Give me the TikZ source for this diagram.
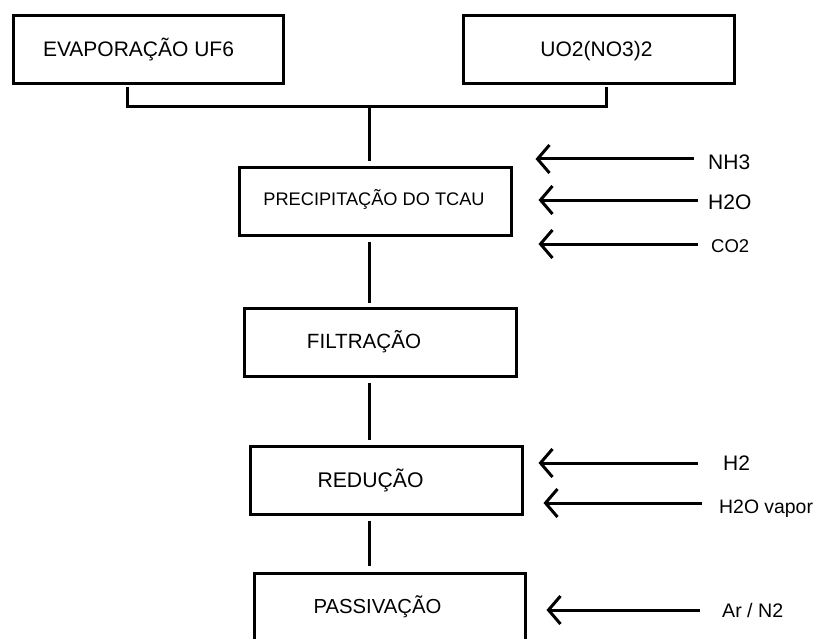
\documentclass[tikz,border=0pt]{standalone}
\usepackage{fontspec}
\setmainfont{Liberation Sans}
\usetikzlibrary{arrows.meta}
\newcommand{\fs}[1]{\fontsize{#1}{#1}\selectfont}
\begin{document}
\begin{tikzpicture}[x=1pt,y=-1pt,
  stepbox/.style={draw, line width=3pt, minimum width=272pt, minimum height=68pt, inner sep=0pt},
  boxtxt/.style={inner sep=0pt, text height=14.5pt, text depth=0pt},
  lbl/.style={inner sep=0pt, anchor=west, text height=14.5pt, text depth=0pt},
  link/.style={line width=3pt},
  feed/.style={line width=3pt, -{Straight Barb[length=12pt,width=28pt]}}]
\useasboundingbox (0,0) rectangle (813,639);

% boxes
\node[stepbox, minimum width=270pt, label={[boxtxt,xshift=-10pt,font=\fs{21}]center:EVAPORAÇÃO UF6}] (evap) at (148.5,49.5) {};
\node[stepbox, minimum width=271pt, label={[boxtxt,xshift=-2.5pt,font=\fs{21}]center:UO2(NO3)2}] (uo2) at (599,49.5) {};
\node[stepbox, label={[boxtxt,xshift=-1.5pt,yshift=2.5pt,text height=13pt,font=\fs{18.2}]center:PRECIPITAÇÃO DO TCAU}] (prec) at (375.5,201.5) {};
\node[stepbox, label={[boxtxt,xshift=-16.5pt,yshift=1.5pt,font=\fs{20.6}]center:FILTRAÇÃO}] (filt) at (380.5,342.5) {};
\node[stepbox, label={[boxtxt,xshift=-16pt,font=\fs{21.2}]center:REDUÇÃO}] (red) at (386.5,480.5) {};
\node[stepbox, minimum width=271pt, minimum height=70pt, label={[boxtxt,xshift=-12.5pt,yshift=2.5pt,font=\fs{20.3}]center:PASSIVAÇÃO}] (pass) at (390,608.5) {};

% junction coordinates
\coordinate (ja) at (127,107);
\coordinate (jb) at (606,107);
\coordinate (spine) at (369,107);

% connectors
\draw[link, shorten <=2pt, shorten >=2pt] (evap.south -| ja) -- (ja) -- (jb) -- (uo2.south -| jb);
\draw[link, shorten >=4.5pt] (spine) -- (prec.north -| spine);
\draw[link, shorten <=5pt, shorten >=4.5pt] (prec.south -| spine) -- (filt.north -| spine);
\draw[link, shorten <=5pt, shorten >=5pt] (filt.south -| spine) -- (red.north -| spine);
\draw[link, shorten <=4.5pt, shorten >=6pt] (red.south -| spine) -- (pass.north -| spine);

% feed labels
\node[lbl, font=\fs{21}] (nh3) at (708,162) {NH3};
\node[lbl, font=\fs{21}] (h2oa) at (708,202) {H2O};
\node[lbl, font=\fs{18.5}, text height=13.3pt] (co2) at (711,246) {CO2};
\node[lbl, font=\fs{21}] (h2) at (723,463) {H2};
\node[lbl, font=\fs{19.4}, text height=14pt] (vap) at (719,506) {H2O vapor};
\node[lbl, font=\fs{19.6}, text height=14pt] (arn) at (722,610) {Ar / N2};

% feed arrows
\draw[feed] ([xshift=-14pt,yshift=3pt]nh3.west) -- ([xshift=22.5pt,yshift=3pt]nh3.west -| prec.east);
\draw[feed] ([xshift=-10pt,yshift=2pt]h2oa.west) -- ([xshift=25.5pt,yshift=2pt]h2oa.west -| prec.east);
\draw[feed] ([xshift=-13pt,yshift=2pt]co2.west) -- ([xshift=25.5pt,yshift=2pt]co2.west -| prec.east);
\draw[feed] ([xshift=-25pt]h2.west) -- ([xshift=14.5pt]h2.west -| red.east);
\draw[feed] ([xshift=-17pt,yshift=3pt]vap.west) -- ([xshift=19.5pt,yshift=3pt]vap.west -| red.east);
\draw[feed] ([xshift=-22pt]arn.west) -- ([xshift=19.5pt]arn.west -| pass.east);
\end{tikzpicture}
\end{document}
